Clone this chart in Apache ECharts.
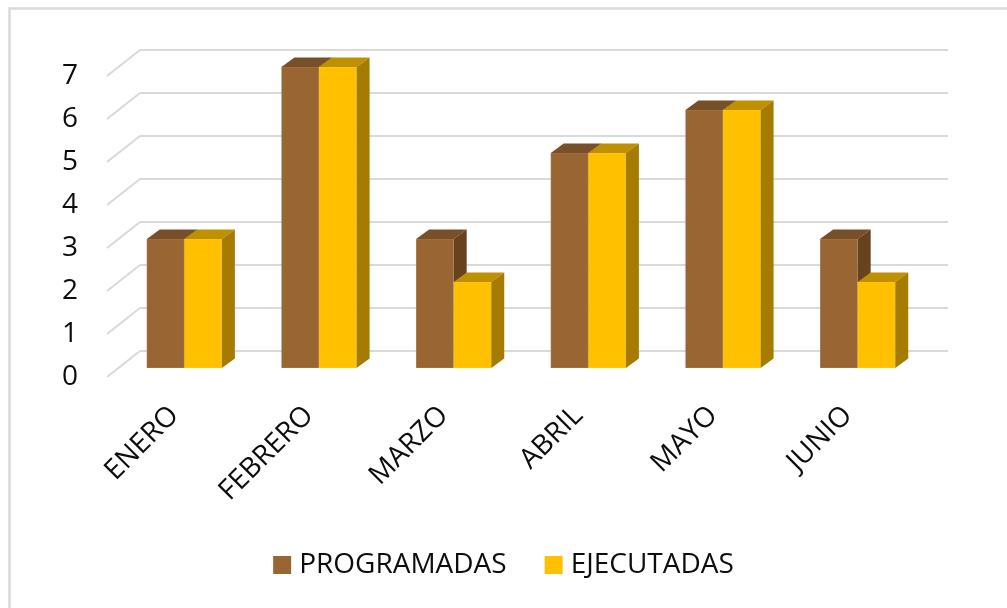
<!DOCTYPE html>
<html>
<head>
<meta charset="utf-8">
<script src="https://cdn.jsdelivr.net/npm/echarts@6/dist/echarts.min.js"></script>
<style>
html,body{margin:0;padding:0;background:#fff;}
#chart{width:1007px;height:608px;}
</style>
</head>
<body>
<div id="chart"></div>
<script>
// datos del grafico
const meses = ['ENERO', 'FEBRERO', 'MARZO', 'ABRIL', 'MAYO', 'JUNIO'];
const programadas = [3, 7, 3, 5, 6, 3];
const ejecutadas = [3, 7, 2, 5, 6, 2];
const niveles = [0, 1, 2, 3, 4, 5, 6, 7];

const FONT = "'Open Sans', 'Noto Sans', sans-serif";
const DX = 13, DY = 9.5; // profundidad de la barra

function barra3d(side, front, top, lateral) {
    return function (params, api) {
        const i = api.value(0);
        const base = api.coord([i, 0]);
        const cima = api.coord([i, api.value(1)]);
        const w = api.size([1, 0])[0] * 0.279;
        const x0 = side === 'left' ? base[0] - w : base[0];
        const x1 = x0 + w;
        const yb = base[1], yt = cima[1];
        return {
            type: 'group',
            children: [
                {type: 'rect', shape: {x: x0, y: yt, width: w, height: yb - yt},
                    style: {fill: front, stroke: 'rgba(255,255,255,0.25)', lineWidth: 0.5}},
                {type: 'polygon', shape: {points: [[x0, yt], [x1, yt], [x1 + DX, yt - DY], [x0 + DX, yt - DY]]},
                    style: {fill: top}},
                {type: 'polygon', shape: {points: [[x1, yt], [x1 + DX, yt - DY], [x1 + DX, yb - DY], [x1, yb]]},
                    style: {fill: lateral}}
            ]
        };
    };
}

let myChart = echarts.init(document.getElementById('chart'));
myChart.setOption({
    backgroundColor: '#fff',
    animation: false,
    graphic: [{
        type: 'rect', silent: true,
        shape: {x: 9.5, y: 8.5, width: 1100, height: 700},
        style: {fill: 'none', stroke: '#d9d9d9', lineWidth: 2.5}
    }],
    legend: {
        bottom: 24,
        left: 'center',
        icon: 'rect',
        itemWidth: 18,
        itemHeight: 18,
        itemGap: 38,
        textStyle: {fontFamily: FONT, fontSize: 28, color: '#0d0d0d', padding: [0, 0, 0, 3]},
        data: ['PROGRAMADAS', 'EJECUTADAS']
    },
    grid: [
        // pared del fondo
        {left: 140, top: 50, width: 808, height: 301},
        // frente de las barras
        {left: 117, top: 67, width: 808, height: 301},
        // frente del piso (etiquetas)
        {left: 107, top: 76, width: 808, height: 301}
    ],
    xAxis: [
        {gridIndex: 0, type: 'value', min: 0, max: 1, show: false},
        {gridIndex: 1, type: 'category', data: meses, show: false},
        {
            gridIndex: 2, type: 'category', data: meses,
            axisLine: {show: false}, axisTick: {show: false},
            axisLabel: {rotate: 45, margin: 34, fontFamily: FONT, fontSize: 28, color: '#0d0d0d', interval: 0}
        }
    ],
    yAxis: [
        {
            gridIndex: 0, type: 'value', min: 0, max: 7, interval: 1,
            axisLine: {show: false}, axisTick: {show: false}, axisLabel: {show: false},
            splitLine: {lineStyle: {color: '#d9d9d9', width: 2}}
        },
        {gridIndex: 1, type: 'value', min: 0, max: 7, interval: 1, show: false},
        {
            gridIndex: 2, type: 'value', min: 0, max: 7, interval: 1,
            axisLine: {show: false}, axisTick: {show: false}, splitLine: {show: false},
            axisLabel: {margin: 29, fontFamily: FONT, fontSize: 28, color: '#0d0d0d'}
        }
    ],
    series: [
        {
            type: 'custom',
            name: 'piso',
            xAxisIndex: 0, yAxisIndex: 0,
            silent: true,
            data: niveles.map(v => [0, v]),
            renderItem: function (params, api) {
                const p = api.coord([0, api.value(1)]);
                return {
                    type: 'line',
                    shape: {x1: p[0] - 33, y1: p[1] + 26, x2: p[0], y2: p[1]},
                    style: {stroke: '#d9d9d9', lineWidth: 2}
                };
            }
        },
        {
            type: 'custom',
            name: 'PROGRAMADAS',
            xAxisIndex: 1, yAxisIndex: 1,
            itemStyle: {color: '#996633'},
            data: programadas.map((v, i) => [i, v]),
            renderItem: barra3d('left', '#996633', '#774f28', '#66421f')
        },
        {
            type: 'custom',
            name: 'EJECUTADAS',
            xAxisIndex: 1, yAxisIndex: 1,
            itemStyle: {color: '#ffc000'},
            data: ejecutadas.map((v, i) => [i, v]),
            renderItem: barra3d('right', '#ffc000', '#bf9000', '#a67c00')
        }
    ]
});
</script>
</body>
</html>
